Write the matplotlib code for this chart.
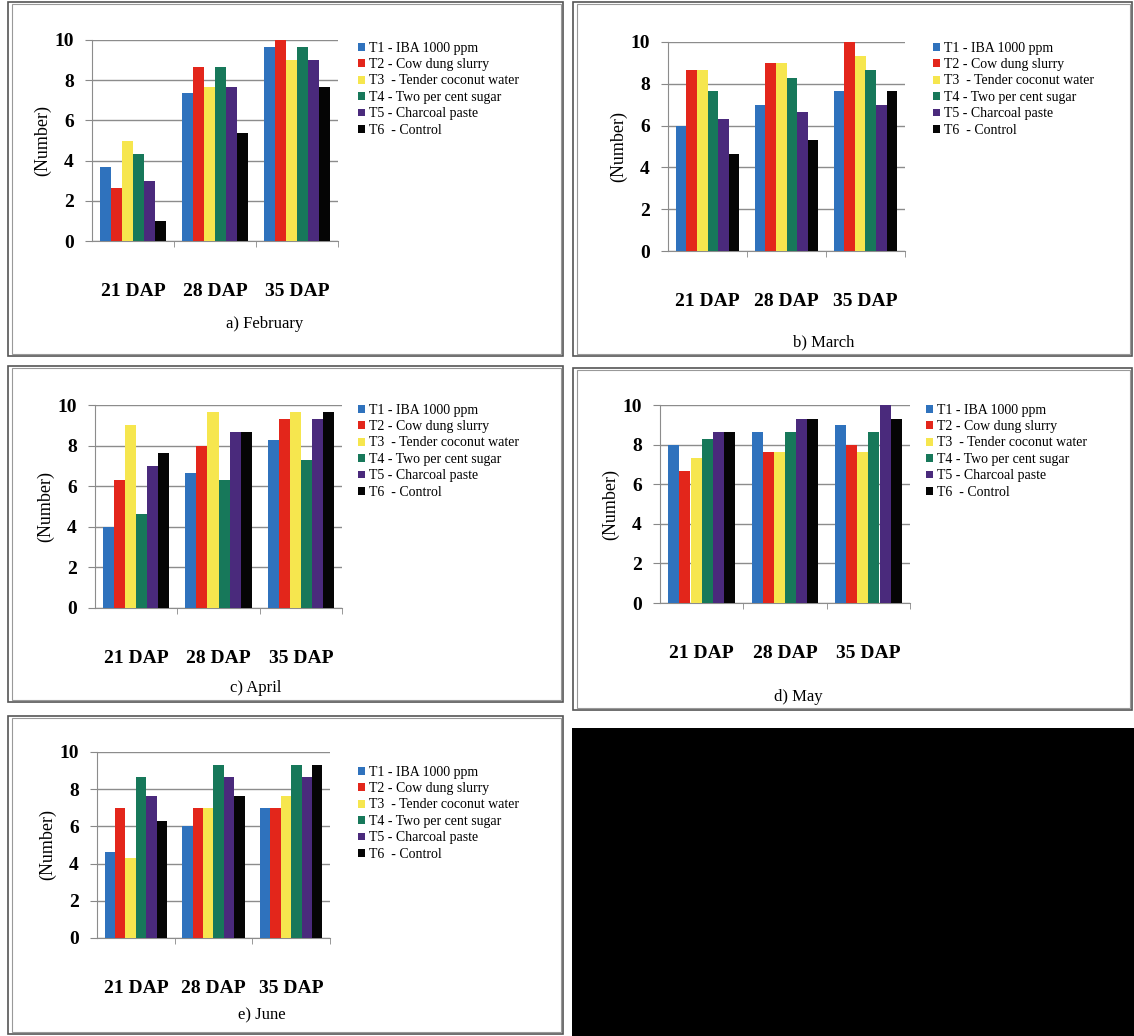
import matplotlib.pyplot as plt
import matplotlib.patches as mpatches
import numpy as np

plt.rcParams['font.family'] = ['Liberation Serif', 'DejaVu Serif']

W, H = 1134, 1036

stages = ['21 DAP', '28 DAP', '35 DAP']
treatments = ['T1 - IBA 1000 ppm', 'T2 - Cow dung slurry', 'T3  - Tender coconut water',
              'T4 - Two per cent sugar', 'T5 - Charcoal paste', 'T6  - Control']
colors = ['#2f72bd', '#e3261b', '#f6e64e', '#17785a', '#4a2a7c', '#050505']

# rows = treatments T1..T6, columns = 21, 28, 35 DAP
feb = [[3.7, 7.35, 9.65], [2.65, 8.65, 10.0], [5.0, 7.65, 9.0],
       [4.35, 8.65, 9.65], [3.0, 7.65, 9.0], [1.0, 5.35, 7.65]]
mar = [[6.0, 7.0, 7.65], [8.65, 9.0, 10.0], [8.65, 9.0, 9.35],
       [7.65, 8.3, 8.65], [6.3, 6.65, 7.0], [4.65, 5.3, 7.65]]
apr = [[4.0, 6.65, 8.3], [6.3, 8.0, 9.3], [9.0, 9.65, 9.65],
       [4.65, 6.3, 7.3], [7.0, 8.65, 9.3], [7.65, 8.65, 9.65]]
may = [[8.0, 8.65, 9.0], [6.65, 7.65, 8.0], [7.3, 7.65, 7.65],
       [8.3, 8.65, 8.65], [8.65, 9.3, 10.0], [8.65, 9.3, 9.3]]
jun = [[4.65, 6.0, 7.0], [7.0, 7.0, 7.0], [4.3, 7.0, 7.65],
       [8.65, 9.3, 9.3], [7.65, 8.65, 8.65], [6.3, 7.65, 9.3]]

captions = ['a) February', 'b) March', 'c) April', 'd) May', 'e) June']
month_data = [feb, mar, apr, may, jun]

# layout in pixels: frame box, axes box, legend top-left, caption position
panels = [
    dict(box=(8, 2, 563, 356), ax=(92, 40, 338, 241), leg=(352, 36), cap=(265, 324)),
    dict(box=(573, 2, 1132, 356), ax=(668, 42, 905, 251), leg=(927, 36), cap=(824, 342)),
    dict(box=(8, 366, 563, 702), ax=(95, 405, 342, 608), leg=(352, 398), cap=(256, 688)),
    dict(box=(573, 368, 1132, 710), ax=(660, 405, 910, 603), leg=(920, 398), cap=(798, 697)),
    dict(box=(8, 716, 563, 1034), ax=(97, 752, 330, 938), leg=(352, 760), cap=(262, 1015)),
]


def rect(x0, y0, x1, y1):
    return [x0 / W, 1 - y1 / H, (x1 - x0) / W, (y1 - y0) / H]


fig = plt.figure(figsize=(W / 100, H / 100), dpi=100)
fig.patch.set_facecolor('white')

for data, cap, p in zip(month_data, captions, panels):
    bx0, by0, bx1, by1 = p['box']
    # double frame around each panel
    fig.patches.append(mpatches.Rectangle((bx0 / W, 1 - by1 / H), (bx1 - bx0) / W, (by1 - by0) / H,
                                          transform=fig.transFigure, fill=False,
                                          edgecolor='#555555', linewidth=1.2))
    fig.patches.append(mpatches.Rectangle(((bx0 + 4) / W, 1 - (by1 - 2) / H), (bx1 - bx0 - 6) / W,
                                          (by1 - by0 - 4) / H, transform=fig.transFigure,
                                          fill=False, edgecolor='#999999', linewidth=0.8))

    ax = fig.add_axes(rect(*p['ax']))
    vals = np.array(data)
    x = np.arange(len(stages))
    bw = 0.134
    for i in range(len(treatments)):
        ax.bar(x + (i - 2.5) * bw, vals[i], width=bw, color=colors[i],
               label=treatments[i], zorder=3)
    ax.set_xlim(-0.5, 2.5)
    ax.set_ylim(0, 10)
    ax.set_yticks(np.arange(0, 11, 2))
    ax.yaxis.grid(True, color='#8c8c8c', linewidth=1.0, zorder=0)
    ax.set_xticks(x)
    ax.set_xticklabels(stages)
    ax.set_xticks([0.5, 1.5, 2.5], minor=True)
    ax.tick_params(axis='x', which='major', length=0, pad=30, labelsize=14)
    ax.tick_params(axis='x', which='minor', length=4, color='#888888', direction='out')
    ax.tick_params(axis='y', length=5, color='#888888', labelsize=14, pad=8)
    for s in ['top', 'right']:
        ax.spines[s].set_visible(False)
    for s in ['left', 'bottom']:
        ax.spines[s].set_color('#8c8c8c')
    ax.set_ylabel('(Number)', fontsize=13, labelpad=2)
    for lab in ax.get_xticklabels() + ax.get_yticklabels():
        lab.set_fontweight('bold')

    lx, ly = p['leg']
    ax.legend(loc='upper left', bbox_to_anchor=(lx / W, 1 - ly / H),
              bbox_transform=fig.transFigure, frameon=False, fontsize=10,
              handlelength=0.5, handleheight=0.5, handletextpad=0.3,
              labelspacing=0.25, borderaxespad=0)

    cx, cy = p['cap']
    fig.text(cx / W, 1 - cy / H, cap, ha='center', va='center', fontsize=12)

# blacked-out empty slot
fig.patches.append(mpatches.Rectangle((572 / W, 0), (W - 572) / W, (1036 - 728) / H,
                                      transform=fig.transFigure, facecolor='black',
                                      edgecolor='none'))

fig.savefig('out.png', dpi=100)
